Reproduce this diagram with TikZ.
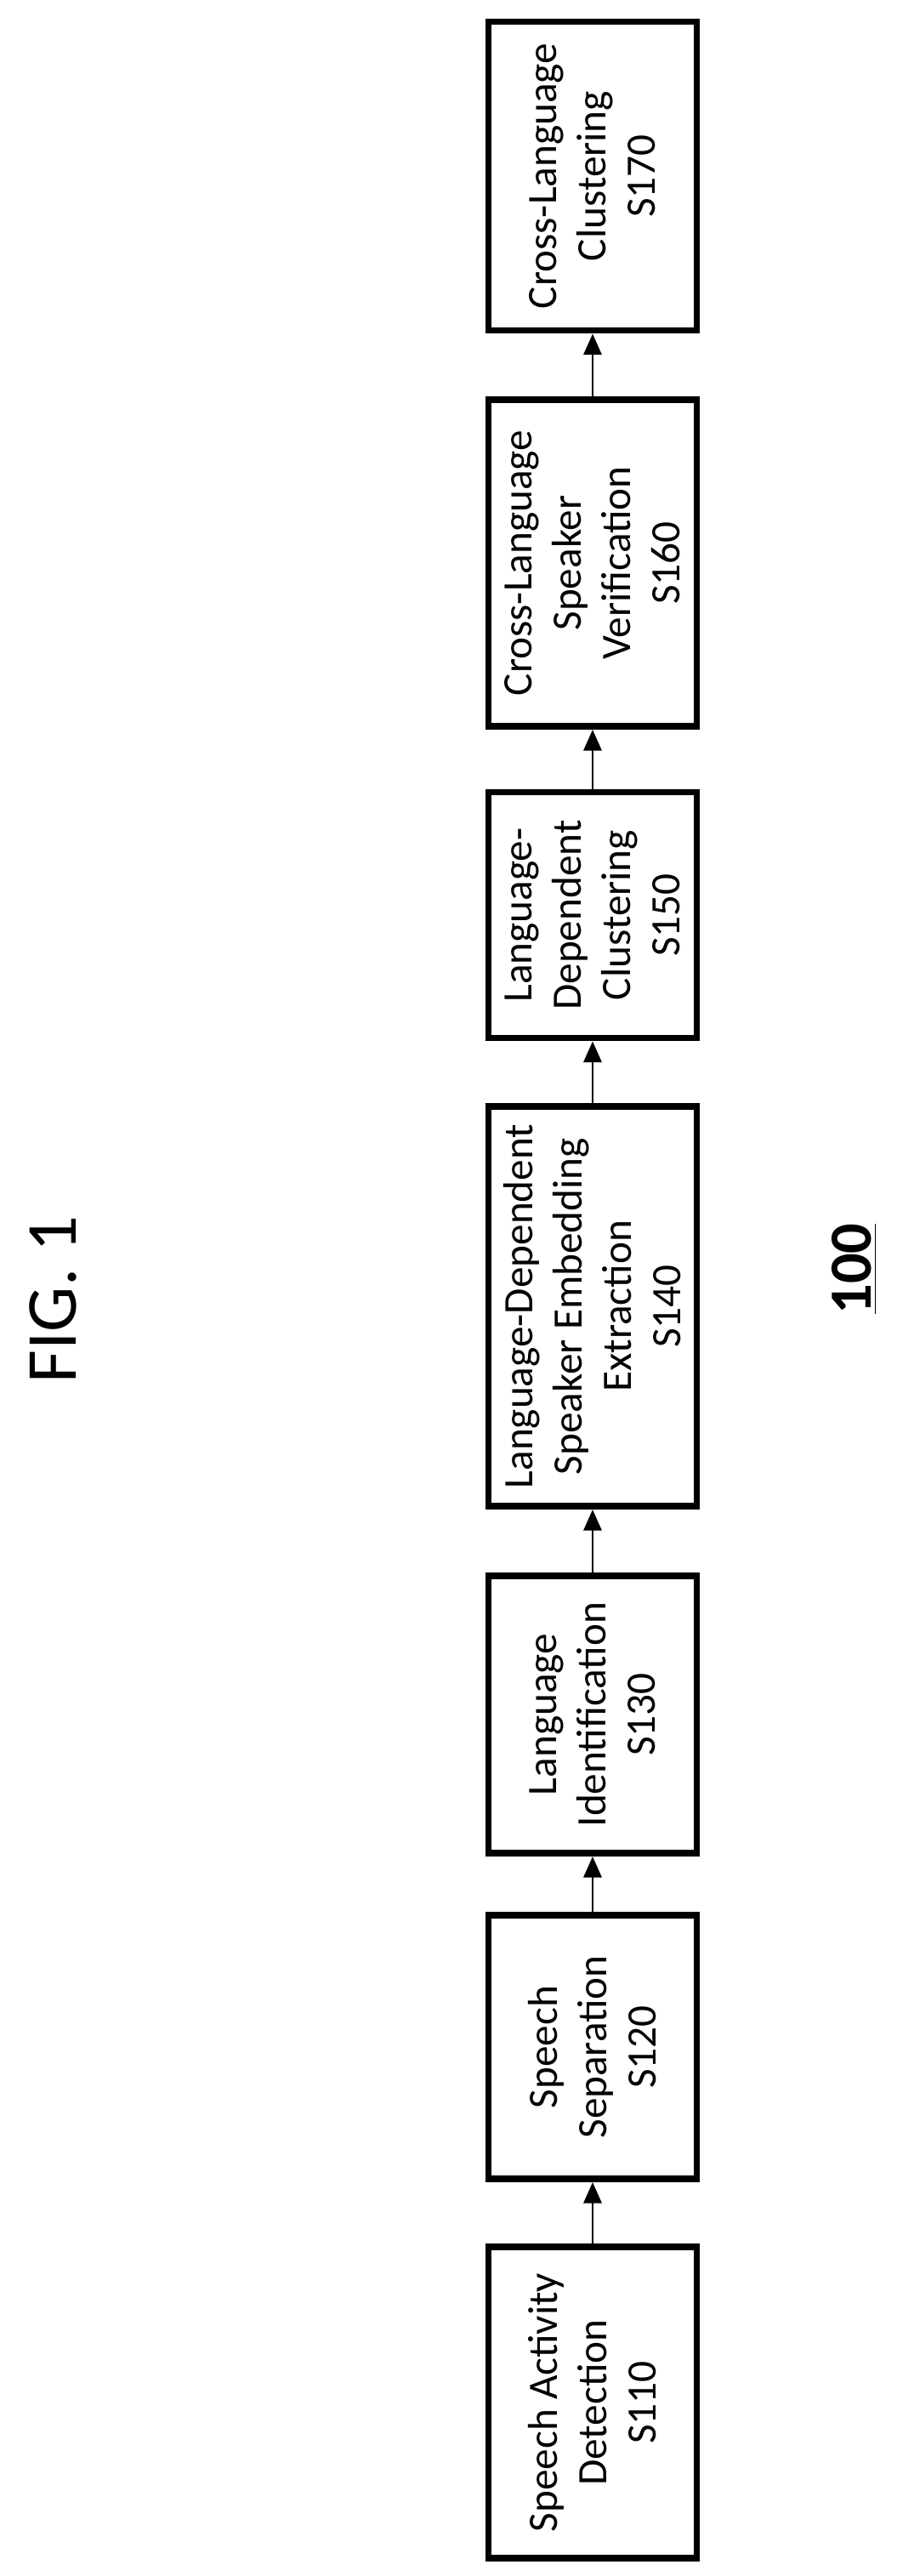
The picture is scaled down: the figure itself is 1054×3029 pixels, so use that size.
\documentclass[tikz,border=0pt]{standalone}
\usepackage{fontspec}
\setmainfont{Carlito}
\usetikzlibrary{arrows.meta}

\begin{document}
\begin{tikzpicture}[x=0.01cm,y=-0.01cm]
        \useasboundingbox (0,0) rectangle (1054,3029);
        \begin{scope}[every node/.style={draw,line width=2.2pt,rotate=90,align=center,
                      minimum height=2.45cm,inner sep=2pt,font=\fontsize{14}{16.5}\selectfont}]
            \node[minimum width=3.63cm] (s170) at (697,207) {Cross-Language\\Clustering\\S170};
            \node[minimum width=3.84cm] (s160) at (697,662) {Cross-Language\\Speaker\\Verification\\S160};
            \node[minimum width=2.89cm] (s150) at (697,1076) {Language-\\Dependent\\Clustering\\S150};
            \node[minimum width=4.70cm] (s140) at (697,1536) {Language-Dependent\\Speaker Embedding\\Extraction\\S140};
            \node[minimum width=3.26cm] (s130) at (697,2016) {Language\\Identification\\S130};
            \node[minimum width=3.10cm] (s120) at (697,2407) {Speech\\Separation\\S120};
            \node[minimum width=3.66cm] (s110) at (697,2825) {Speech Activity\\Detection\\S110};
        \end{scope}

        \begin{scope}[>={Triangle[length=7pt,width=6pt]}, every edge/.style={draw=black,thick,->}]
            \path (s110) edge (s120);
            \path (s120) edge (s130);
            \path (s130) edge (s140);
            \path (s140) edge (s150);
            \path (s150) edge (s160);
            \path (s160) edge (s170);
        \end{scope}

        \node[rotate=90,font=\fontsize{24}{28}\selectfont] (fig) at (62,1528) {FIG. 1};
        \node[rotate=90,font=\fontsize{20}{24}\selectfont\bfseries] (num) at (1005,1492) {\underline{100}};
    \end{tikzpicture}
\end{document}
